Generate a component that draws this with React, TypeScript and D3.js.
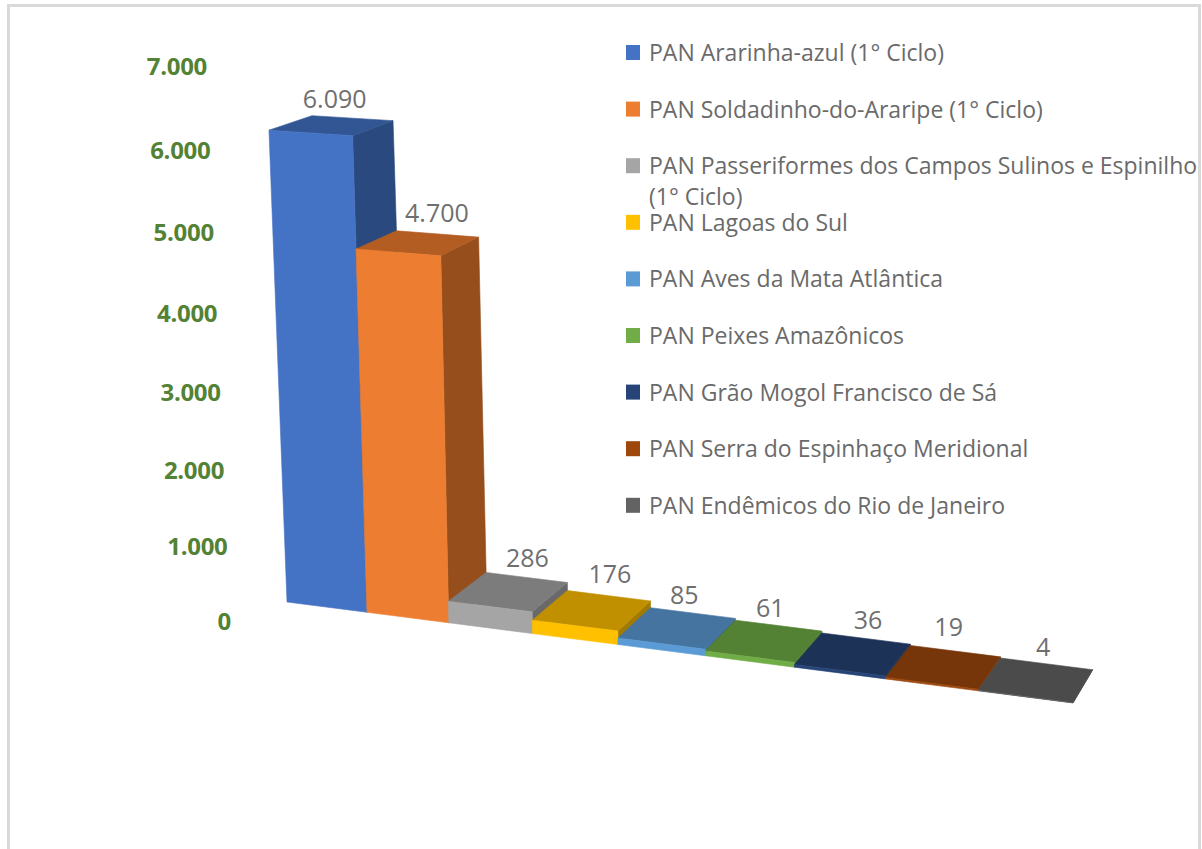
import * as d3 from "d3";

const categories = [
  "PAN Ararinha-azul (1° Ciclo)",
  "PAN Soldadinho-do-Araripe (1° Ciclo)",
  "PAN Passeriformes dos Campos Sulinos e Espinilho (1° Ciclo)",
  "PAN Lagoas do Sul",
  "PAN Aves da Mata Atlântica",
  "PAN Peixes Amazônicos",
  "PAN Grão Mogol Francisco de Sá",
  "PAN Serra do Espinhaço Meridional",
  "PAN Endêmicos do Rio de Janeiro",
];
const values = [6090, 4700, 286, 176, 85, 61, 36, 19, 4];
const yTicks = [0, 1000, 2000, 3000, 4000, 5000, 6000, 7000];

const frontColors = ["#4472C4", "#ED7D31", "#A5A5A5", "#FFC000", "#5B9BD5", "#70AD47", "#264478", "#9E480E", "#636363"];
const topColors = ["#325594", "#B35D23", "#7C7C7C", "#C09000", "#44749F", "#548235", "#1C3357", "#773609", "#4B4B4B"];
const sideColors = ["#2A4A7F", "#964F1C", "#696969", "#A37A00", "#3A6288", "#47702D", "#182C4A", "#652E08", "#404040"];

// label nudges from the middle of each bar's top face
const labelNudgeX = [3, 19, 19, 18, 7, 6, 15, 5, 7];
const labelNudgeY = [-26, -30, -34, -37, -33, -33, -34, -40, -33];

const FONT = "'Open Sans', sans-serif";
const fmt = d3.formatLocale({ decimal: ",", thousands: ".", grouping: [3], currency: ["", ""] }).format(",d");

// bars get wider towards the viewer, so the floor edge follows a square curve
const uOffset = 43;
const floorX = d3.scalePow().exponent(2).domain([uOffset, uOffset + 9]).range([287, 1073]);
const floorY = d3.scaleLinear().domain([287, 1073]).range([602, 703]);
// same foreshortening on the value axis
const rise = (h: number) => (0.0746 * h) / (1 - 8.47e-6 * h);
const VANISH_X = 663;
const VANISH_DY = 9843;

type Pt = [number, number];

function project(u: number, depth: number, h: number): Pt {
  const bx = floorX(uOffset + u);
  const by = floorY(bx);
  const r = rise(h) * (0.985 + 0.01 * u);
  const x = bx - (r * (VANISH_X - bx)) / VANISH_DY;
  const y = by - r;
  const dx = 43 - 2.6 * u;
  const dy = -(28.5 + 0.5 * u) + 0.0023 * h;
  return [x + dx * depth, y + dy * depth];
}

const poly = d3.line<Pt>().curve(d3.curveLinearClosed);

const axisY = d3.scaleLinear().domain([0, 622]).range([622, 0]);
const axisRight = d3.scaleLinear().domain([0, 7000]).range([231, 207]);
const legendY = d3.scaleLinear().domain([0, 8]).range([53, 505.8]);

export default function App() {
  return (
    <svg width={1202} height={849} style={{ position: "absolute", left: 0, top: 0, background: "#fff" }}>
      <path d="M8.5,849V5.5H1199.5V849" fill="none" stroke="#d9d9d9" strokeWidth={3} />

      {yTicks.map((t) => (
        <text
          key={t}
          x={axisRight(t)}
          y={axisY(rise(t))}
          dy="0.35em"
          textAnchor="end"
          fontFamily={FONT}
          fontWeight={700}
          fontSize={24}
          letterSpacing={-0.3}
          fill="#548235"
        >
          {fmt(t)}
        </text>
      ))}

      {values.map((v, i) => {
        const fl = project(i, 0, 0);
        const fr = project(i + 1, 0, 0);
        const tl = project(i, 0, v);
        const tr = project(i + 1, 0, v);
        const bl = project(i, 1, v);
        const br = project(i + 1, 1, v);
        const sb = project(i + 1, 1, 0);
        return (
          <g key={categories[i]}>
            <path d={poly([tr, br, sb, fr])!} fill={sideColors[i]} stroke={sideColors[i]} strokeWidth={0.6} />
            <path d={poly([tl, tr, br, bl])!} fill={topColors[i]} stroke={topColors[i]} strokeWidth={0.6} />
            <path d={poly([fl, fr, tr, tl])!} fill={frontColors[i]} stroke={frontColors[i]} strokeWidth={0.6} />
          </g>
        );
      })}

      {values.map((v, i) => {
        const mid = d3.polygonCentroid([
          project(i, 0, v),
          project(i + 1, 0, v),
          project(i + 1, 1, v),
          project(i, 1, v),
        ]);
        return (
          <text
            key={v}
            x={mid[0] + labelNudgeX[i]}
            y={mid[1] + labelNudgeY[i]}
            dy="0.35em"
            textAnchor="middle"
            fontFamily={FONT}
            fontSize={25}
            fill="#6f6f6f"
          >
            {fmt(v)}
          </text>
        );
      })}

      {categories.map((c, i) => {
        const wrap = c.indexOf(" (1° Ciclo)");
        const long = c.length > 50;
        return (
          <g key={c}>
            <rect x={626} y={legendY(i) - 8} width={14} height={15} fill={frontColors[i]} />
            <text x={649} y={legendY(i)} dy="0.35em" fontFamily={FONT} fontSize={23} fill="#6a6a6a">
              {long ? c.slice(0, wrap) : c}
            </text>
            {long && (
              <text x={649} y={legendY(i) + 31} dy="0.35em" fontFamily={FONT} fontSize={23} fill="#6a6a6a">
                {c.slice(wrap + 1)}
              </text>
            )}
          </g>
        );
      })}
    </svg>
  );
}
